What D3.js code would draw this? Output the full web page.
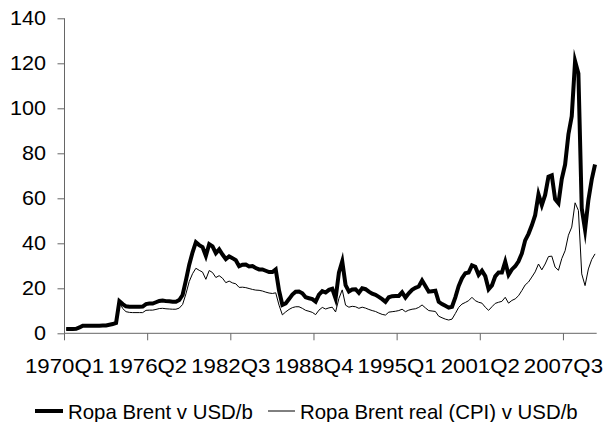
<!DOCTYPE html>
<html><head><meta charset="utf-8">
<script src="https://cdn.jsdelivr.net/npm/d3@7"></script>
<style>body{margin:0;background:#fff}svg{display:block}text{font-family:"Liberation Sans",Arial,sans-serif;fill:#000}</style>
</head><body><svg id="c" width="605" height="422"></svg>
<script>
const startYear = 1970, quarterCount = 160;
const categories = [];
for (let i = 0; i < quarterCount; i++) categories.push((startYear + Math.floor(i / 4)) + "Q" + (i % 4 + 1));
const tickLabels = ["1970Q1","1976Q2","1982Q3","1988Q4","1995Q1","2001Q2","2007Q3"];
const yTicks = [0,20,40,60,80,100,120,140];
const seriesNames = ["Ropa Brent v USD/b","Ropa Brent real (CPI) v USD/b"];
const brentNominal = [
1.9,1.9,1.9,2.0, 2.6,3.4,3.4,3.4, 3.4,3.4,3.4,3.5, 3.5,3.8,4.1,4.6,
14.3,13.0,12.0,11.8, 11.8,11.8,11.8,11.9, 13.0,13.2,13.2,13.8, 14.4,14.6,14.3,14.2,
14.0,14.0,14.8,17.0, 23.5,30.5,36.0,40.5, 39.2,38.3,34.4,39.6, 38.6,35.6,37.3,35.0,
33.0,34.2,33.4,32.5, 29.8,30.5,30.6,29.7, 29.9,29.0,28.4,28.4, 27.8,27.2,27.2,28.4,
19.0,12.6,13.3,15.2, 17.2,18.5,18.6,17.8, 16.0,15.6,15.2,14.1, 17.2,18.7,18.1,19.3,
19.8,15.5,27.0,32.0, 21.4,18.6,19.5,19.6, 18.0,20.0,19.6,18.5, 17.6,17.1,16.2,15.2,
14.0,16.0,16.5,16.6, 16.6,18.2,15.9,17.8, 19.3,20.2,20.8,23.5, 21.0,18.5,18.7,18.9,
14.0,13.0,12.2,11.4, 11.8,16.0,21.0,24.5, 26.7,27.0,30.2,29.6, 26.0,27.8,25.4,19.6,
21.3,25.3,27.0,27.0, 31.8,26.0,28.4,29.8, 32.0,35.5,41.3,44.2, 48.0,52.5,61.8,57.0,
61.5,69.6,70.2,59.6, 57.8,68.6,75.0,88.5, 96.5,121.0,115.5,55.5, 46.0,59.2,68.3,75.0];
const brentReal = [
1.85,1.85,1.85,1.95, 2.5,3.25,3.25,3.25, 3.25,3.25,3.25,3.3, 3.3,3.55,3.8,4.2,
14.0,11.0,9.6,9.3, 9.2,9.2,9.2,9.2, 10.2,10.3,10.3,10.6, 11.0,11.1,10.9,10.8,
10.7,10.7,11.2,12.8, 17.5,23.0,26.5,28.9, 28.0,27.2,24.0,27.9, 27.0,24.8,25.6,24.5,
22.5,23.2,22.4,22.0, 20.4,20.5,20.3,19.9, 19.5,19.2,19.1,18.8, 18.3,17.9,17.7,18.0,
12.5,8.2,9.5,10.6, 11.4,11.8,11.8,11.1, 10.2,9.8,9.3,8.3, 10.3,11.5,10.8,11.3,
11.6,9.5,15.5,19.3, 12.5,11.6,12.0,11.8, 11.1,11.6,11.2,10.6, 10.1,9.7,9.0,8.4,
8.1,9.4,9.6,9.8, 10.1,10.7,9.6,10.3, 10.7,10.9,11.5,12.6, 11.3,10.1,9.9,9.7,
7.6,6.9,6.3,5.9, 6.3,8.8,11.5,13.0, 13.7,14.5,16.0,14.5, 13.8,13.4,11.6,10.2,
11.8,13.3,13.8,14.2, 16.0,13.4,14.6,15.3, 16.7,19.0,21.5,22.8, 25.0,27.3,30.8,28.2,
30.8,34.1,34.3,29.4, 28.0,33.2,36.7,43.6, 47.2,58.0,54.6,26.4, 21.2,28.6,32.8,35.3];

const svg = d3.select("#c");
const pLeft = 64.5, pRight = 596.7, pTop = 18.3, pBottom = 333.3;
const x = d3.scaleBand().domain(categories).range([pLeft, pRight]).padding(0);
const y = d3.scaleLinear().domain([0, 140]).range([pBottom, pTop]);
const cx = c => x(c) + x.bandwidth() / 2;
const axisColor = "#666";
const fontFam = '"Liberation Sans",Arial,sans-serif';

const yAxis = svg.append("g").attr("transform", `translate(${pLeft},0)`)
  .call(d3.axisLeft(y).tickValues(yTicks).tickSize(7).tickPadding(11));
const xAxis = svg.append("g").attr("transform", `translate(0,${pBottom})`)
  .call(d3.axisBottom(x).tickValues(tickLabels).tickSize(7).tickPadding(0));
[yAxis, xAxis].forEach(g => {
  g.select(".domain").attr("stroke", axisColor).attr("stroke-width", 1);
  g.selectAll(".tick line").attr("stroke", axisColor);
  g.selectAll("text").attr("font-family", fontFam).attr("fill", "#000");
});
yAxis.select(".domain").attr("d", `M0,${pTop}V${pBottom}`);
xAxis.select(".domain").attr("d", `M${pLeft},0H${pRight}`);
yAxis.selectAll(".tick text").attr("font-size", 20).attr("x", 0)
  .attr("transform", "translate(-18.5,0) scale(1.08,1)");
xAxis.selectAll(".tick").attr("transform", d => `translate(${x(d)},0)`);
xAxis.selectAll(".tick text").attr("font-size", 21).attr("dy", null).attr("y", 40)
  .attr("transform", "scale(1.06,1)");

const line = d3.line().x((d, i) => cx(categories[i])).y(d => y(d));
svg.append("path").datum(brentReal).attr("d", line)
  .attr("fill", "none").attr("stroke", "#000").attr("stroke-width", 1).attr("stroke-linejoin", "miter");
svg.append("path").datum(brentNominal).attr("d", line)
  .attr("fill", "none").attr("stroke", "#000").attr("stroke-width", 4)
  .attr("stroke-linejoin", "miter").attr("stroke-miterlimit", 10);

const lg = svg.append("g");
const items = [{name: seriesNames[0], w: 4, x0: 35, x1: 63, tx: 68},
               {name: seriesNames[1], w: 1, x0: 268, x1: 295, tx: 300}];
items.forEach(it => {
  lg.append("line").attr("x1", it.x0).attr("x2", it.x1).attr("y1", 411).attr("y2", 411)
    .attr("stroke", "#000").attr("stroke-width", it.w);
  lg.append("text").attr("x", it.tx).attr("y", 419).attr("font-size", 20.4).text(it.name);
});
</script></body></html>
